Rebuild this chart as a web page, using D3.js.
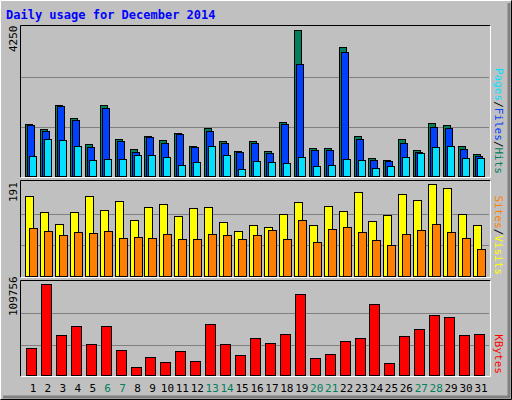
<!DOCTYPE html><html><head><meta charset="utf-8"><script src="https://cdn.jsdelivr.net/npm/d3@7"></script>
<style>body{margin:0;background:#fff}text{font-family:"DejaVu Sans Mono",monospace}</style></head><body><svg id="c" width="512" height="400"></svg>
<script>
const days=d3.range(1,32);
const weekends=[6,7,13,14,20,21,27,28];
const hits=[1511,1370,2050,1681,944,2050,1086,803,1171,1058,1256,888,1398,1030,746,1030,746,1568,4175,831,831,3693,1171,548,491,1086,775,1540,1483,888,661];
const files=[1483,1313,2021,1624,860,1964,1030,718,1143,973,1228,860,1313,973,718,973,690,1511,3211,775,775,3551,1086,491,463,973,718,1426,1398,803,605];
const pages=[586,1067,1039,888,491,520,520,633,633,576,350,435,888,633,236,463,435,406,576,321,350,520,491,265,321,576,690,860,888,548,548];
const visits=[163,131,107,131,163,135,153,115,141,147,123,139,141,111,93,105,101,127,151,105,143,133,170,113,125,166,155,186,178,127,105];
const sites=[99,93,85,91,89,93,79,81,79,87,77,77,87,85,77,85,95,77,115,71,97,101,91,75,65,87,95,107,91,79,57];
const kbytes=[32140,107400,47430,58020,36850,58020,29790,10980,22740,16860,28620,18030,60370,36850,25090,43900,38020,48610,95650,21560,26260,40380,43900,83890,15680,46260,54490,70950,68600,47430,48610];
const maxes={hits:4250,visits:191,kbytes:109756};

const svg=d3.select("#c");
svg.append("rect").attr("width",512).attr("height",400).attr("fill","#c0c0c0");
// outer 3D frame
svg.append("path").attr("d","M0.5,399.5V0.5H511.5").attr("stroke","#fff").attr("fill","none");
svg.append("path").attr("d","M511.5,0.5V399.5H0.5").attr("stroke","#000").attr("fill","none");
svg.append("path").attr("d","M509,3V397H3").attr("stroke","#808080").attr("stroke-width",3).attr("fill","none");
svg.append("text").attr("x",6).attr("y",19).attr("fill","#0000ff").attr("font-weight","bold").attr("font-size",12).text("Daily usage for December 2014");

const x=d3.scaleLinear().domain([1,31]).range([33,481]);
const left=20,right=490;
function panel(top,bottom,max){
  svg.append("rect").attr("x",left).attr("y",top).attr("width",right-left).attr("height",bottom-top).attr("fill","#c0c0c0");
  const y=d3.scaleLinear().domain([0,max]).range([bottom,top+2]);
  [1/3,2/3].forEach(f=>svg.append("line").attr("x1",left+1).attr("x2",right-1).attr("y1",Math.round(y(max*f))+0.5).attr("y2",Math.round(y(max*f))+0.5).attr("stroke","#808080"));
  svg.append("path").attr("d",`M${left+.5},${bottom+.5}V${top+.5}H${right+.5}`).attr("stroke","#000").attr("fill","none");
  svg.append("path").attr("d",`M${right+.5},${top+.5}V${bottom+.5}H${left+.5}`).attr("stroke","#fff").attr("fill","none");
  return y;
}
function bars(data,y,off,w,color){
  svg.append("g").selectAll("rect").data(data).join("rect")
   .attr("x",(d,i)=>Math.round(x(i+1))+off+.5).attr("width",w)
   .attr("y",d=>Math.round(y(d))+.5).attr("height",d=>y(0)-Math.round(y(d))-1)
   .attr("fill",color).attr("stroke","#000");
}
const y1=panel(25,177,maxes.hits);
bars(hits,y1,-8,7,"#00805c");
bars(files,y1,-6,7,"#0040ff");
bars(pages,y1,-4,7,"#00e0ff");
const y2=panel(180,277,maxes.visits);
bars(visits,y2,-8,8,"#ffff00");
bars(sites,y2,-4,8,"#ff8000");
const y3=panel(280,376,maxes.kbytes);
bars(kbytes,y3,-7,10,"#ff0000");

function vlabel(xp,yp,txt){svg.append("text").attr("transform",`translate(${xp},${yp}) rotate(-90)`).attr("font-size",11).attr("fill","#000").text(txt);}
vlabel(17,52,"4250");vlabel(17,202,"191");vlabel(17,316,"109756");
function rlabel(xp,yp,parts){const t=svg.append("text").attr("transform",`translate(${xp},${yp}) rotate(90)`).attr("font-size",11).attr("text-anchor","end");
 parts.forEach(p=>t.append("tspan").attr("fill",p[1]).text(p[0]));}
rlabel(495,174,[["Pages","#00e0ff"],["/","#000"],["Files","#0040ff"],["/","#000"],["Hits","#00805c"]]);
rlabel(495,275,[["Sites","#ff8000"],["/","#000"],["Visits","#ffff00"]]);
rlabel(495,374,[["KBytes","#ff0000"]]);
svg.append("g").selectAll("text").data(days).join("text").attr("x",d=>x(d)).attr("y",392).attr("text-anchor","middle").attr("font-size",11)
 .attr("fill",d=>weekends.includes(d)?"#00805c":"#000").text(d=>d);
</script></body></html>
